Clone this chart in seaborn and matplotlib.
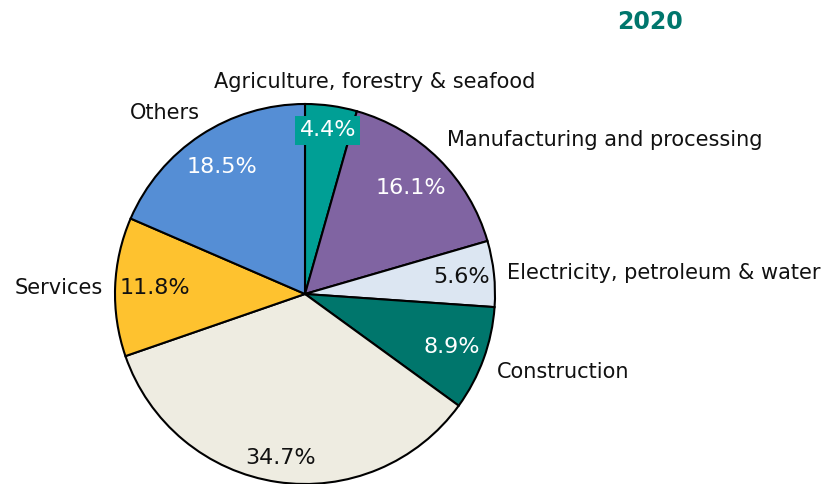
import numpy as np
import matplotlib
matplotlib.use("Agg")
import matplotlib.pyplot as plt
import seaborn as sns

# Sector shares of 2020, clockwise from 12 o'clock
sectors = ["Agriculture, forestry & seafood", "Manufacturing and processing",
           "Electricity, petroleum & water", "Construction", "", "Services", "Others"]
shares = [4.4, 16.1, 5.6, 8.9, 34.7, 11.8, 18.5]
colors = ["#009f95", "#8064a2", "#dce6f2", "#00766c", "#eeece1", "#fec22f", "#558ed5"]
pct_colors = ["white", "white", "#111111", "white", "#111111", "#111111", "white"]
title = "2020"

sns.set_theme(style="white")
plt.rcParams["font.family"] = ["DejaVu Sans"]

W, H = 823, 484
fig = plt.figure(figsize=(W / 100, H / 100), dpi=100)
ax = fig.add_axes([0, 0, 1, 1])

cx, cy, R = 305, H - 294, 190
wedges, _ = ax.pie(shares, colors=colors, startangle=90, counterclock=False,
                   center=(cx, cy), radius=R, frame=True,
                   wedgeprops=dict(edgecolor="black", linewidth=1.5))
ax.set_xlim(0, W)
ax.set_ylim(0, H)
ax.axis("off")

# percentage labels inside each wedge
pct_r = [0.87, 0.79, 0.83, 0.82, 0.87, 0.79, 0.80]
for w, v, c, f in zip(wedges, shares, pct_colors, pct_r):
    ang = np.deg2rad((w.theta1 + w.theta2) / 2)
    x = cx + f * R * np.cos(ang)
    y = cy + f * R * np.sin(ang)
    kw = {}
    if v == shares[0]:
        kw["bbox"] = dict(boxstyle="square,pad=0.2", fc=colors[0], ec="none")
    ax.text(x, y, f"{v:.1f}%", ha="center", va="center", color=c, fontsize=16, **kw)

# category labels
lab_pos = [(375, 82, "center"), (447, 140, "left"), (507, 273, "left"),
           (497, 372, "left"), None, (103, 288, "right"), (200, 113, "right")]
for name, p in zip(sectors, lab_pos):
    if p is None:
        continue
    x, y, ha = p
    ax.text(x, H - y, name, ha=ha, va="center", color="#111111", fontsize=15)

ax.text(650, H - 22, title, ha="center", va="center", color="#00766c",
        fontsize=17, fontweight="bold")

fig.savefig("out.png", dpi=100)
